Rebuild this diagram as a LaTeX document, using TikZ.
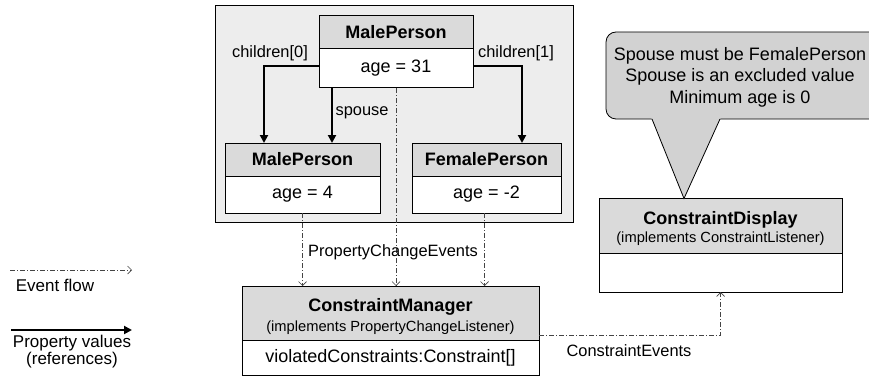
\documentclass[tikz,border=0pt]{standalone}
\usepackage{fontspec}
\setmainfont{Liberation Sans}
\usetikzlibrary{arrows.meta,calc}
\definecolor{hdrgray}{HTML}{DADADA}
\definecolor{boxgray}{HTML}{EDEDED}
\definecolor{bubgray}{HTML}{D2D2D2}
\definecolor{evgray}{HTML}{444444}
\newcommand{\subfnt}{\fontsize{14.7}{17}\selectfont}
\tikzset{
  cls/.style={draw=black, line width=1pt, inner sep=0pt, outer sep=0pt, anchor=north west, align=center,
    font=\fontsize{18}{21}\selectfont},
  hdr/.style={cls, fill=hdrgray},
  bdy/.style={cls, fill=white},
  htext/.style={inner sep=0pt, align=center, font=\fontsize{18}{21}\selectfont},
  evline/.style={draw=evgray, line width=0.7pt, dash pattern=on 5pt off 2pt on 1pt off 2pt,
    -{Straight Barb[length=4pt,width=8pt]}},
  prop/.style={line width=2pt, -{Triangle[length=8pt,width=8pt]}},
  lbl/.style={font=\fontsize{16.4}{19}\selectfont, inner sep=0pt},
  leg/.style={font=\fontsize{17}{11}\selectfont, inner sep=0pt, align=center},
}
\begin{document}
\begin{tikzpicture}[x=1pt,y=-1pt]
\useasboundingbox (0,0) rectangle (869,385);
\clip (0,0) rectangle (869,385);
% container
\node[draw=black, line width=0.8pt, fill=boxgray, minimum width=358pt, minimum height=217pt,
  inner sep=0pt, outer sep=0pt, anchor=north west] (cont) at (215,5) {};
% top MalePerson
\node[hdr, minimum width=154pt, minimum height=33pt] (mp1h) at (319,16) {\bfseries MalePerson};
\node[bdy, minimum width=154pt, minimum height=39pt] (mp1b) at (319,49) {age = 31};
% left MalePerson
\node[hdr, minimum width=155pt, minimum height=33pt] (mp2h) at (225,143) {\bfseries MalePerson};
\node[bdy, minimum width=155pt, minimum height=37pt] (mp2b) at (225,176) {age = 4};
% FemalePerson
\node[hdr, minimum width=149pt, minimum height=33pt] (fph) at (412,143) {\bfseries FemalePerson};
\node[bdy, minimum width=149pt, minimum height=37pt] (fpb) at (412,176) {age = -2};
% ConstraintManager
\node[hdr, minimum width=297pt, minimum height=54pt] (cmh) at (242,286) {};
\node[htext] (cmt) at ($(cmh.center)+(0,4)$)
  {\bfseries ConstraintManager\\[-1pt]{\subfnt (implements PropertyChangeListener)}};
\node[bdy, minimum width=297pt, minimum height=35pt] (cmb) at (242,340) {violatedConstraints:Constraint[]};
% ConstraintDisplay
\node[hdr, minimum width=243pt, minimum height=55pt] (cdh) at (599,198) {};
\node[htext] (cdt) at ($(cdh.center)+(0,3)$)
  {\bfseries ConstraintDisplay\\[-3pt]{\subfnt (implements ConstraintListener)}};
\node[bdy, minimum width=243pt, minimum height=39pt] (cdb) at (599,253) {};
% bubble
\draw[line width=0.8pt, fill=bubgray, rounded corners=10pt] (606,32) rectangle (892,119);
\fill[bubgray] (651.5,118.2) -- (684,199) -- (720.5,118.2) -- cycle;
\draw[line width=0.8pt] (652,119) -- (684,198.5) -- (720,119);
\node[align=center, inner sep=0pt, font=\fontsize{18}{21.5}\selectfont] (msg) at (740,77)
  {Spouse must be FemalePerson\\Spouse is an excluded value\\Minimum age is 0};
% property arrows
\draw[prop] ($(mp1b.west)+(0,-2.5)$) -| ($(mp2h.north west)+(39,0)$);
\draw[prop] ($(mp1b.south west)+(13,0)$) -- ($(mp2h.north west)+(107,0)$);
\draw[prop] ($(mp1b.east)+(0,-2.5)$) -| ($(fph.north west)+(110,0)$);
\node[lbl] (l0) at (270,53) {children[0]};
\node[lbl] (l1) at (516,53) {children[1]};
\node[lbl] (lsp) at (362,113) {spouse};
% event lines
\draw[evline] (mp2b.south) -- (mp2b.south |- cmh.north);
\draw[evline] (mp1b.south) -- (mp1b.south |- cmh.north);
\draw[evline] ($(fpb.south)+(-2,0)$) -- ($(fpb.south |- cmh.north)+(-2,0)$);
\node[lbl] (pce) at (393,252) {PropertyChangeEvents};
\draw[evline] ($(cmh.south east)+(0,-5)$) -| (cdb.south);
\node[lbl] (ce) at (629,351) {ConstraintEvents};
% legend
\coordinate (la1) at (10,270);
\coordinate (la2) at (132,270);
\coordinate (lb1) at (11,330);
\coordinate (lb2) at (132,330);
\draw[evline] (la1) -- (la2);
\node[leg] (lev) at (55,285) {Event flow};
\draw[prop] (lb1) -- (lb2);
\node[leg] (lpv) at (72,351.5) {Property values\\(references)};
\end{tikzpicture}
\end{document}
